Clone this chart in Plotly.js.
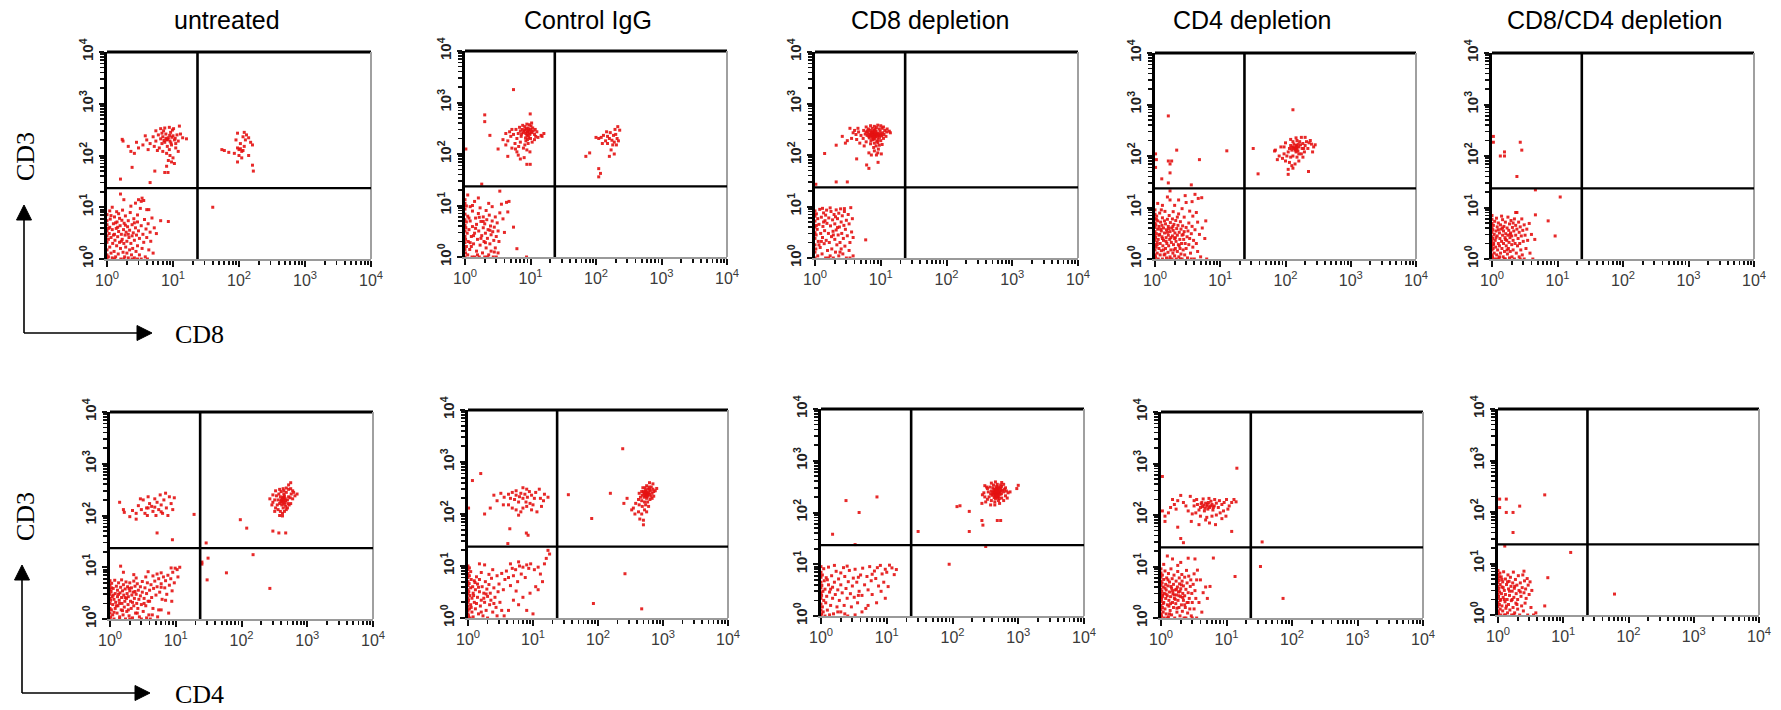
<!DOCTYPE html>
<html><head><meta charset="utf-8">
<script src="https://cdn.plot.ly/plotly-3.0.1.min.js"></script>
<style>html,body{margin:0;padding:0;background:#fff}#chart{width:1781px;height:710px}</style>
</head><body><div id="chart"></div>
<script>
// ---------- DATA (linear units of the log axes) ----------
const titles = ["untreated", "Control IgG", "CD8 depletion", "CD4 depletion", "CD8/CD4 depletion"];
const tickVals = [1, 10, 100, 1000, 10000];
const tickText = ["10<sup>0</sup>", "10<sup>1</sup>", "10<sup>2</sup>", "10<sup>3</sup>", "10<sup>4</sup>"];
const minorTickVals = [2,3,4,5,6,7,8,9,20,30,40,50,60,70,80,90,200,300,400,500,600,700,800,900,2000,3000,4000,5000,6000,7000,8000,9000];
const quadrantGate = 23.5;

// top row: CD8 (x) vs CD3 (y)
const cd8_untreated = [
[1,1.2],[1,1.5],[1,2.1],[1,2.8],[1,3.5],[1,4.6],[1,1],[1,5.5],[1.05,1.1],[1.05,2.4],[1.08,3.1],[1.1,1.7],[1.1,4.1],[1.12,5.9],[1.15,1.3],[1.15,2.6],[1.2,3.7],[1.2,1.05],[1.22,2.0],[1.25,4.8],[1.28,1.4],[1.3,3.0],[1.3,6.5],[1.32,2.3],[1.35,1.1],[1.38,3.9],[1.4,1.8],[1.42,5.2],[1.45,2.7],[1.48,1.25],[1.5,3.4],[1.5,7.5],[1.55,2.1],[1.58,4.4],[1.6,1.6],[1.62,1.0],[1.65,3.0],[1.68,5.6],[1.7,2.4],[1.72,8.8],[1.75,1.35],[1.78,3.7],[1.8,2.0],[1.82,4.9],[1.85,1.1],[1.88,2.9],[1.9,6.8],[1.92,1.7],[1.95,3.3],[2.0,2.2],[2.0,1.3],[2.05,4.2],[2.1,1.05],[2.1,5.5],[2.15,2.6],[2.2,1.5],[2.2,3.6],[2.25,7.9],[2.3,2.0],[2.35,1.2],[2.4,4.6],[2.4,2.8],[2.45,1.6],[2.5,3.2],[2.55,6.0],[2.6,1.05],[2.6,2.3],[2.7,4.0],[2.75,1.4],[2.8,2.9],[2.9,5.2],[2.9,1.8],[3.0,3.5],[3.1,1.2],[3.1,2.5],[3.2,9.5],[3.3,4.4],[3.4,1.6],[3.5,3.0],[3.6,2.1],[3.7,5.8],[3.8,1.1],[3.9,3.8],[4.0,2.6],[4.2,4.8],[4.3,1.5],[4.5,3.3],[4.6,2.2],[4.8,6.2],[5.0,1.3],[5.2,4.0],[3.3,13],[2.7,12],[1.8,14],[1.6,18],[2.3,10.5],[3.6,13.5],[1.2,10],[1.4,8.2],[2.9,7.1],[6.5,5.5],[5.6,3.1],[8.5,5.3],[1.0,7.2],[1.1,8.5],[4.1,1.0],[3.3,1.0],[2.4,1.0],[1.3,1.0],[1.8,1.0],[2.9,1.0],[1.25,2.9],[1.45,4.1],[1.65,2.2],[1.05,3.9],[1.9,4.5],[2.1,3.0],[1.35,5.0],[1.55,6.1],[2.6,5.0],[1.15,6.9],[4.0,9.0],[4.3,9.0],[3.0,14],[3.4,15],
[8,200],[7.5,180],[8.5,220],[9,190],[7,230],[9.5,160],[6.5,210],[10,240],[8.2,150],[7.8,260],[9.2,280],[6.8,170],[10.5,200],[11,170],[8.8,130],[7.2,300],[6,250],[5.5,190],[5,230],[9.8,310],[11.5,250],[12,190],[8,110],[7,120],[9,100],[10,90],[8.5,80],[6.2,140],[5.2,150],[4.5,170],[4,200],[3.5,160],[3,140],[2.8,180],[3.8,240],[4.2,130],[5.5,300],[6.5,330],[7.5,340],[8.8,350],[10.2,330],[12.5,370],[13,260],[14,220],[16,210],[11,140],[12,120],[7.8,215],[8.3,205],[9.6,225],[9.3,175],[7.3,195],[8.9,245],[10.8,215],[6.8,270],[5.8,125],[9.5,75],[10.5,70],[8,62],[2.3,120],[2.1,150],[2.6,110],[1.7,205],[1.75,190],[2.4,59],[5.3,50],[7.5,47],[8.4,47],[1.6,35],[4.5,30],
[100,130],[110,120],[95,140],[120,150],[105,170],[90,200],[115,230],[130,250],[140,220],[150,180],[125,200],[100,100],[85,110],[110,90],[140,100],[160,160],[95,270],[120,280],[70,115],[60,125],[55,130],[160,65],[165,50],[95,75],[105,135],[115,125],[40,10]];

const cd8_controlIgG = [
[1,1],[1,1.4],[1,1.9],[1,2.5],[1,3.2],[1,4.1],[1,5.3],[1,6.8],[1,8.5],[1,11],[1,13],[1.02,1.2],[1.02,2.2],[1.03,3.7],[1.05,1.6],[1.05,4.8],[1.08,2.9],[1.1,1.1],[1.1,6.2],[1.12,2.0],[1.15,3.4],[1.18,1.4],[1.2,9.5],[1.2,5.0],[1.25,2.5],[1.28,1.0],[1.3,7.8],[1.3,3.9],[1.35,1.8],[1.4,2.9],[1.4,12],[1.45,5.7],[1.5,1.3],[1.5,4.3],[1.55,2.2],[1.6,7.0],[1.62,3.2],[1.65,1.0],[1.7,1.7],[1.7,9.0],[1.75,4.9],[1.8,2.6],[1.85,1.2],[1.9,3.7],[1.9,6.0],[1.95,2.0],[2.0,1.0],[2.0,4.4],[2.05,2.9],[2.1,1.5],[2.1,8.0],[2.15,5.3],[2.2,2.3],[2.25,3.4],[2.3,1.1],[2.35,6.5],[2.4,1.8],[2.45,4.0],[2.5,2.7],[2.5,1.3],[2.6,5.0],[2.65,3.1],[2.7,1.0],[2.75,2.1],[2.8,3.8],[2.9,1.5],[2.9,6.0],[3.0,2.5],[3.1,4.6],[3.2,1.2],[3.2,3.2],[3.3,2.0],[3.4,7.2],[1.8,26],[3.4,19],[4.3,11.5],[3.6,10.6],[5.5,3.8],[6.2,1.45],[8.7,1.0],[1.1,16],[1.3,10],[2.6,9.5],[3.8,5.5],[4.0,3.0],[1.6,14],[2.3,11],[1.25,1.6],[1.45,3.6],[1.15,5.7],[1.75,2.3],[2.05,1.9],[1.35,2.6],[1.55,1.1],[1.05,9.8],[1.9,4.9],[2.4,3.3],[2.8,1.25],[1.2,1.9],[1.65,5.9],[3.0,1.0],[2.2,1.0],[1.4,1.0],[4.7,12],[4.5,7.5],
[9,270],[9.5,290],[8.5,250],[10,300],[8,280],[10.5,260],[9.2,320],[8.8,230],[7.5,300],[11,280],[9.8,240],[8.2,340],[10.2,350],[7.8,260],[9.4,210],[8.6,310],[10.8,320],[11.5,240],[7,280],[9,190],[10,200],[8.5,180],[7.2,220],[6.5,250],[6,300],[11.8,300],[12.5,270],[12,220],[9.6,370],[8.8,380],[10.4,400],[7.6,360],[6.8,330],[10.6,170],[9.2,160],[8.2,150],[7,170],[6.2,200],[5.5,240],[5,220],[4.8,270],[4.5,180],[5.8,160],[6.6,140],[7.8,130],[8.8,120],[9.8,110],[6.2,110],[5.2,130],[4.2,150],[3.8,190],[4.2,250],[5.2,300],[11.5,190],[13,210],[14.5,230],[16,250],[9.3,290],[8.9,265],[9.7,255],[8.3,295],[10.3,275],[9.1,235],[7.3,245],[8.4,205],[5.5,1780],[2.0,575],[2.0,425],[2.4,230],[3.2,125],[9.9,600],[15,220],[8.8,63],[9.9,63],[1.03,125],[6.5,95],[8,85],[7,80],[4.5,90],[5.9,125],
[175,185],[160,200],[190,170],[150,220],[200,240],[180,150],[210,200],[140,180],[165,260],[195,300],[220,180],[205,150],[130,230],[120,210],[110,200],[150,160],[170,120],[190,100],[160,90],[230,290],[215,340],[185,230],[145,270],[125,160],[70,90],[80,105],[110,52],[117,42],[110,36],[100,210]];

const cd8_cd8Depletion = [
[1,1],[1,1.3],[1,1.8],[1,2.4],[1,3.1],[1,4.0],[1,5.2],[1,6.5],[1,8.2],[1.03,1.5],[1.04,2.8],[1.05,7.2],[1.08,3.6],[1.1,1.1],[1.1,5.8],[1.12,2.1],[1.15,4.5],[1.18,8.8],[1.2,1.6],[1.22,3.0],[1.25,6.2],[1.28,1.2],[1.3,2.5],[1.32,4.1],[1.35,7.5],[1.38,1.9],[1.4,3.4],[1.42,5.3],[1.45,1.0],[1.48,2.2],[1.5,8.5],[1.52,4.7],[1.55,1.4],[1.6,3.0],[1.62,6.0],[1.65,2.0],[1.7,1.1],[1.72,4.2],[1.75,8.0],[1.78,2.6],[1.8,1.5],[1.85,5.5],[1.88,3.3],[1.9,1.0],[1.95,7.0],[2.0,2.3],[2.0,4.6],[2.05,1.3],[2.1,8.6],[2.1,3.5],[2.15,1.8],[2.2,5.8],[2.25,2.8],[2.3,1.1],[2.3,7.4],[2.35,4.0],[2.4,2.0],[2.45,9.0],[2.5,1.5],[2.5,5.0],[2.55,3.0],[2.6,6.6],[2.65,1.2],[2.7,2.4],[2.75,4.3],[2.8,8.0],[2.85,1.7],[2.9,3.6],[3.0,5.4],[3.0,1.0],[3.1,2.7],[3.2,7.0],[3.3,4.6],[3.3,1.4],[3.4,2.0],[3.5,9.5],[3.6,3.2],[3.7,5.8],[3.8,1.1],[3.8,2.5],[5.9,2.25],[1.15,1.8],[1.3,9.2],[1.6,1.0],[1.45,6.8],[2.05,6.3],[1.25,2.1],[1.9,2.8],[2.4,1.3],[1.05,4.3],[2.8,9.1],[3.4,1.0],[1.7,9.4],[2.2,3.9],[1.35,5.0],
[7.7,245],[7.5,250],[8,240],[7.2,260],[8.3,230],[7,235],[8.6,255],[7.8,270],[7.4,220],[8.8,245],[6.8,250],[9,265],[8.1,210],[7.3,280],[6.6,230],[8.5,290],[9.3,240],[7.9,300],[6.4,265],[9.6,220],[7.6,200],[8.2,315],[6.9,300],[9.1,200],[10,260],[6.2,240],[10.4,235],[7.1,190],[8.7,185],[9.8,290],[6,280],[10.8,270],[11.2,250],[5.8,255],[7.4,330],[8.6,340],[9.5,320],[6.5,320],[5.5,300],[11.5,300],[12.3,280],[10.5,330],[8,360],[7,370],[9,380],[6,350],[10,370],[11,350],[12,230],[11,210],[10,190],[9,175],[8,170],[7,165],[6,180],[5.4,210],[5,240],[4.6,280],[4.2,250],[4,300],[4.5,330],[3.4,330],[3.8,270],[12.5,320],[13.5,290],[14,270],[9.5,155],[8.5,150],[10.5,160],[9.2,130],[8,120],[9,110],[10.2,105],[8.6,100],[7.2,100],[6.6,110],[7.8,140],[5.6,150],[4.8,170],[4.3,200],[3.6,210],[3.1,190],[2.6,230],[2.9,170],[2.1,155],[1.4,107],[4.3,84],[6.1,64],[6.6,55],[9.1,72],[2.1,30],[3.1,30],[1.03,27],[7.6,232],[8.1,258],[7.3,242],[8.4,247],[7.9,225],[7.1,270],[8.9,228],[7.5,285],[6.7,215],[8.3,270],[9.4,250],[7.8,205],[6.3,295],[10.2,245]];

const cd8_cd4Depletion = [
[1,1],[1,1.2],[1,1.5],[1,1.9],[1,2.3],[1,2.8],[1,3.4],[1,4.1],[1,5.0],[1,6.1],[1,7.4],[1,9.0],[1.02,1.1],[1.02,2.6],[1.03,4.6],[1.04,1.7],[1.05,3.1],[1.06,6.8],[1.08,1.3],[1.08,2.1],[1.1,3.8],[1.1,5.5],[1.12,1.0],[1.12,2.4],[1.15,1.6],[1.15,4.3],[1.18,3.0],[1.18,7.8],[1.2,1.2],[1.2,2.0],[1.22,5.2],[1.25,1.45],[1.25,3.5],[1.28,2.7],[1.3,1.0],[1.3,6.3],[1.32,1.8],[1.35,4.0],[1.35,2.3],[1.38,1.2],[1.4,3.2],[1.42,8.4],[1.45,1.6],[1.45,4.8],[1.48,2.6],[1.5,1.05],[1.5,3.7],[1.52,2.0],[1.55,5.9],[1.58,1.35],[1.6,2.9],[1.6,4.3],[1.62,1.8],[1.65,7.0],[1.68,2.4],[1.7,1.1],[1.7,3.4],[1.72,5.1],[1.75,1.5],[1.78,2.1],[1.8,4.0],[1.82,1.0],[1.85,2.8],[1.85,6.0],[1.88,1.3],[1.9,3.6],[1.92,1.9],[1.95,4.7],[2.0,2.5],[2.0,1.15],[2.02,3.2],[2.05,1.6],[2.08,5.6],[2.1,2.2],[2.12,1.0],[2.15,3.9],[2.2,1.4],[2.2,2.9],[2.25,4.5],[2.28,1.9],[2.3,7.5],[2.32,1.1],[2.35,3.3],[2.4,2.4],[2.42,1.6],[2.45,5.3],[2.5,1.25],[2.5,3.8],[2.55,2.0],[2.6,2.9],[2.6,1.0],[2.65,4.4],[2.7,1.5],[2.75,2.4],[2.8,6.5],[2.8,3.4],[2.85,1.2],[2.9,2.0],[3.0,4.1],[3.0,1.6],[3.1,2.7],[3.15,1.05],[3.2,3.5],[3.3,5.0],[3.3,1.9],[3.4,2.5],[3.5,1.3],[3.6,3.1],[3.7,4.3],[3.8,1.7],[3.9,2.3],[4.0,1.0],[4.1,3.7],[4.3,2.0],[4.5,5.2],[4.5,1.4],[4.8,3.0],[5.0,1.1],[5.3,4.0],[5.8,2.5],[6.2,1.0],[6.0,5.5],[1.7,14],[2.3,14],[3.0,12.5],[3.7,13],[4.6,15],[5.2,15.5],[4.1,18],[2.0,11],[1.3,11],[2.6,9.5],[3.4,8.5],[4.3,8.0],[1.1,12],[1.25,9.0],[1.9,8.3],[3.8,6.8],[1.55,16],[2.9,17],[1.08,1.9],[1.22,3.8],[1.35,1.5],[1.48,2.2],[1.62,3.9],[1.75,2.6],[1.88,4.3],[2.05,2.6],[2.35,1.8],[1.42,1.25],[1.15,2.9],[1.28,4.5],[1.55,3.3],[1.95,1.5],[2.7,3.0],[1.3,2.5],[1.05,5.9],[1.68,1.0],[2.45,1.0],[3.6,1.0],[1.4,5.5],[2.2,6.5],
[1.6,600],[2.15,130],[1.02,110],[1.02,60],[1.6,80],[1.8,80],[1.7,70],[1.7,47],[1.27,36],[1.6,30],[1.7,21],[3.6,27.5],[4.8,85],[12.6,126],[1.05,85],
[140,145],[130,150],[150,140],[125,130],[145,160],[160,150],[135,170],[120,160],[155,125],[170,165],[115,140],[145,120],[165,190],[130,190],[180,140],[110,120],[150,200],[185,175],[200,160],[210,190],[230,180],[250,170],[220,140],[240,200],[195,120],[175,110],[130,100],[120,95],[105,100],[95,110],[90,90],[80,100],[70,130],[75,85],[100,80],[115,75],[140,70],[160,80],[185,95],[150,95],[125,65],[110,55],[130,58],[200,230],[175,230],[145,225],[120,210],[100,180],[85,150],[95,150],[160,110],[140,130],[135,140],[150,155],[125,145],[145,135],[155,170],[190,140],[270,150],[285,165],[260,120],[130,790],[32,140],[38,45],[225,50],[110,44],[68,125]];

const cd8_cd8cd4Depletion = [
[1,1],[1,1.2],[1,1.5],[1,1.8],[1,2.2],[1,2.7],[1,3.3],[1,4.0],[1,4.9],[1,5.9],[1,7.0],[1.02,1.1],[1.02,2.5],[1.03,3.7],[1.04,1.6],[1.05,4.5],[1.06,2.0],[1.08,1.3],[1.08,3.0],[1.1,5.4],[1.1,1.0],[1.12,2.3],[1.14,1.7],[1.15,3.5],[1.17,6.2],[1.18,1.2],[1.2,2.8],[1.2,4.2],[1.22,1.5],[1.25,2.0],[1.25,5.0],[1.28,1.05],[1.3,3.2],[1.3,1.8],[1.32,2.5],[1.35,4.6],[1.35,1.3],[1.38,3.8],[1.4,2.2],[1.42,1.6],[1.45,5.8],[1.45,2.9],[1.48,1.1],[1.5,3.5],[1.5,2.0],[1.52,4.3],[1.55,1.4],[1.58,2.6],[1.6,1.0],[1.6,5.2],[1.62,3.1],[1.65,1.8],[1.68,2.3],[1.7,4.0],[1.72,1.25],[1.75,6.5],[1.75,2.9],[1.78,1.6],[1.8,3.6],[1.82,2.1],[1.85,1.05],[1.85,4.8],[1.88,2.6],[1.9,1.4],[1.92,3.2],[1.95,5.6],[2.0,1.9],[2.0,2.8],[2.02,1.1],[2.05,4.1],[2.1,2.3],[2.1,1.5],[2.15,3.5],[2.2,6.0],[2.2,1.0],[2.25,2.0],[2.3,4.5],[2.3,2.9],[2.35,1.3],[2.4,3.8],[2.4,8.0],[2.45,1.8],[2.5,2.5],[2.55,5.2],[2.6,1.1],[2.6,3.3],[2.65,2.0],[2.7,4.2],[2.75,1.5],[2.8,2.8],[2.85,6.0],[2.9,1.2],[2.95,3.6],[3.0,2.2],[3.1,4.6],[3.1,1.0],[3.2,2.9],[3.3,1.6],[3.4,3.8],[3.5,2.3],[3.7,4.9],[3.8,1.3],[4.0,3.0],[4.2,1.0],[4.6,7.2],[7.2,5.5],[9.2,2.8],[11,16],[2.3,8],[4.6,22],[4.5,2.4],[1.15,2.6],[1.3,1.1],[1.45,4.0],[1.6,2.4],[1.7,1.5],[1.9,3.0],[1.25,3.7],[1.4,6.8],[2.1,5.0],[1.05,1.9],[2.7,1.0],[1.2,1.0],[1.55,1.0],
[1.05,240],[1.05,185],[1.34,100],[1.55,100],[1.55,120],[2.7,185],[2.85,130],[2.4,40]];

// bottom row: CD4 (x) vs CD3 (y)
const cd4_untreated = [
[1,1],[1,1.3],[1,1.6],[1,2.0],[1,2.5],[1,3.0],[1,3.7],[1,4.5],[1,5.5],[1.02,1.1],[1.02,2.3],[1.04,3.4],[1.05,1.5],[1.06,4.9],[1.08,2.7],[1.1,1.2],[1.1,1.9],[1.12,3.9],[1.15,1.0],[1.15,2.4],[1.18,5.6],[1.2,1.6],[1.2,3.1],[1.22,2.1],[1.25,4.3],[1.28,1.3],[1.3,2.7],[1.3,3.6],[1.32,1.8],[1.35,5.0],[1.38,2.3],[1.4,1.1],[1.42,3.2],[1.45,4.1],[1.48,1.5],[1.5,2.6],[1.5,5.7],[1.52,2.0],[1.55,3.5],[1.58,1.2],[1.6,4.6],[1.62,2.9],[1.65,1.7],[1.68,2.2],[1.7,3.8],[1.72,1.0],[1.75,5.2],[1.78,2.5],[1.8,1.4],[1.82,3.1],[1.85,4.2],[1.88,1.9],[1.9,2.7],[1.95,1.15],[2.0,3.5],[2.0,5.0],[2.05,2.2],[2.1,1.6],[2.12,4.0],[2.15,2.9],[2.2,1.05],[2.25,3.3],[2.3,1.8],[2.3,5.4],[2.35,2.5],[2.4,4.3],[2.45,1.3],[2.5,3.0],[2.55,2.0],[2.6,4.8],[2.65,1.6],[2.7,3.6],[2.75,2.4],[2.8,1.1],[2.9,4.2],[2.9,2.8],[3.0,1.9],[3.1,3.3],[3.1,5.3],[3.2,1.4],[3.3,2.5],[3.4,4.0],[3.5,1.8],[3.6,3.1],[3.7,5.0],[3.8,2.2],[3.9,1.2],[4.0,3.6],[4.2,4.6],[4.3,2.6],[4.5,1.6],[4.6,3.9],[4.8,5.4],[5.0,2.9],[5.2,4.2],[5.5,6.0],[5.7,3.3],[6.0,4.8],[6.2,2.4],[6.5,6.5],[6.8,4.0],[7.0,5.5],[7.3,3.0],[7.6,7.0],[8.0,4.5],[8.4,6.0],[8.7,2.2],[9.0,8.0],[9.5,5.0],[9.8,9.6],[10.5,9.0],[11.5,10],[10.8,6.5],[8.5,9.7],[6.0,7.8],[4.5,6.8],[3.5,6.5],[2.5,6.2],[1.45,10.5],[1.6,8.0],[2.3,7.2],[3.8,8.2],[5.2,7.4],[7.0,2.3],[5.5,1.5],[4.1,1.0],[3.0,1.0],[2.0,1.0],[1.4,1.0],[6.0,1.5],[1.12,2.9],[1.25,1.8],[1.35,3.0],[1.55,1.45],[1.7,2.6],[1.95,3.9],[2.2,2.1],[2.6,1.3],[1.05,4.0],[1.15,1.35],[1.4,2.0],[1.9,1.5],[2.4,3.4],[3.3,2.0],[4.0,2.2],[6.0,4.1],[8.8,3.5],[4.4,1.2],[7.8,1.3],[5.3,1.1],[3.6,1.05],
[1.4,180],[1.6,130],[1.65,115],[2.0,95],[2.2,125],[2.5,110],[2.7,155],[2.9,210],[3.2,200],[3.0,130],[3.4,110],[3.6,140],[3.8,230],[4.0,170],[4.3,150],[4.5,120],[4.8,210],[5.0,100],[5.2,180],[5.5,130],[5.8,250],[6.0,160],[6.3,110],[6.6,200],[7.0,270],[7.2,140],[7.6,100],[8.0,230],[8.5,170],[9.0,130],[9.5,220],[3.8,140],[4.8,145],[2.5,85],[5.2,46],[8.9,34],[19,105],[3.7,100],[6.0,118],
[430,190],[400,200],[460,180],[420,220],[380,170],[450,240],[500,200],[410,160],[470,150],[390,230],[520,230],[360,200],[440,260],[480,280],[430,140],[350,160],[510,170],[550,220],[570,260],[600,300],[560,330],[520,320],[480,340],[440,300],[400,290],[370,260],[340,240],[320,200],[300,180],[330,140],[360,130],[390,120],[420,110],[450,120],[480,130],[500,140],[530,160],[560,170],[600,210],[650,240],[700,260],[620,280],[380,100],[420,98],[320,120],[290,160],[270,210],[300,250],[330,300],[380,320],[430,330],[520,390],[560,430],[410,190],[445,205],[425,175],[460,215],[395,185],[470,195],[435,225],[415,205],[450,165],[96,83],[120,57],[300,50],[370,46],[470,46],
[25,12.6],[25,11.5],[31,15],[29,29.5],[150,17.5],[59,7.8],[30,5.7],[270,3.9]];

const cd4_controlIgG = [
[1,1],[1,1.2],[1,1.4],[1,1.7],[1,2.0],[1,2.4],[1,2.9],[1,3.5],[1,4.2],[1,5.0],[1,6.0],[1,7.2],[1,8.6],[1,10],[1.02,1.1],[1.02,2.2],[1.03,3.2],[1.04,4.6],[1.05,1.5],[1.05,6.5],[1.07,2.7],[1.08,1.0],[1.1,3.8],[1.1,1.8],[1.12,5.5],[1.15,1.3],[1.15,2.4],[1.18,4.0],[1.2,3.0],[1.2,1.05],[1.25,5.2],[1.25,2.0],[1.3,1.5],[1.3,3.5],[1.35,6.2],[1.4,2.5],[1.4,4.5],[1.45,1.2],[1.5,3.2],[1.5,5.5],[1.55,1.7],[1.6,2.2],[1.65,4.0],[1.7,1.1],[1.75,3.0],[1.8,2.0],[1.85,5.0],[1.9,1.4],[1.95,3.6],[2.0,2.6],[2.0,1.0],[2.1,4.4],[2.15,1.8],[2.2,3.0],[2.25,2.2],[2.3,5.8],[2.4,1.3],[2.5,3.8],[2.6,2.5],[2.7,1.6],[2.8,6.5],[2.9,3.2],[3.0,4.5],[3.1,2.0],[3.3,7.2],[3.5,3.5],[3.7,5.5],[3.9,8.0],[4.2,6.0],[4.5,4.2],[4.8,9.0],[5.0,6.5],[5.4,8.5],[5.8,5.0],[6.2,10],[6.6,7.0],[7.0,9.5],[7.6,6.0],[8.0,10.5],[8.6,9.0],[9.2,11],[10.5,8.5],[12,9.5],[13,7.0],[15,11],[17,20],[18,17],[16,14],[14,5.0],[11,4.0],[9,3.0],[7,2.5],[6,1.8],[5,2.2],[4.2,1.4],[3.6,1.1],[10,1.2],[12,3.5],[8,1.4],[5.5,3.3],[3.3,1.4],[2.4,8.5],[1.8,10.5],[1.5,11],[2.1,6.9],[1.6,7.5],[4.5,11],[6,12],[1.12,1.6],[1.22,2.7],[1.35,1.9],[1.45,3.9],[1.28,4.8],[1.6,1.3],[1.75,2.4],[1.1,7.8],[1.05,9.2],[2.8,1.1],[1.9,2.9],[2.5,1.9],
[6.2,215],[5.5,230],[7,200],[6.5,250],[4.8,260],[5.2,190],[7.5,240],[8.2,210],[7.8,170],[6,170],[4.5,200],[4.2,240],[3.6,210],[3.2,250],[2.8,180],[2.5,230],[8.8,270],[9.5,230],[10.5,200],[11,260],[12.5,300],[13,200],[14.5,180],[15,240],[10,150],[9,160],[8,140],[7,130],[6.5,110],[5.5,120],[4.8,130],[4.2,150],[3.5,150],[2.2,130],[1.8,100],[8,300],[7,320],[5.5,280],[9.5,120],[11.5,110],[13.5,140],[6,95],[4.4,52],[7.9,43],[8.4,39],[4.1,27],[1.57,600],[1.17,440],[1.02,130],[17,210],
[550,235],[520,250],[580,220],[500,270],[600,260],[540,290],[480,230],[620,240],[560,200],[510,210],[640,280],[590,300],[530,320],[470,270],[450,210],[650,220],[680,250],[700,300],[720,270],[610,330],[560,350],[490,320],[430,250],[420,190],[470,180],[520,170],[580,170],[630,190],[680,200],[720,220],[760,280],[800,310],[700,380],[620,400],[540,150],[480,140],[430,150],[380,160],[350,130],[330,120],[370,100],[420,110],[470,100],[520,120],[560,110],[600,140],[440,80],[500,76],[550,260],[565,240],[535,225],[575,250],[545,270],[590,235],[510,240],[555,215],[525,260],[620,300],[660,330],[250,160],[280,200],[240,1800],[35,235],[155,250],[80,82],[500,62],[260,7.1],[85,1.9],[470,1.5]];

const cd4_cd8Depletion = [
[1,1],[1,1.3],[1,1.7],[1,2.2],[1,2.8],[1,3.5],[1,4.5],[1,5.6],[1,7.0],[1,9.0],[1.02,1.1],[1.02,2.5],[1.03,3.9],[1.05,1.5],[1.05,6.2],[1.07,3.0],[1.08,1.2],[1.1,2.0],[1.1,8.2],[1.12,4.8],[1.15,1.0],[1.15,3.3],[1.18,1.8],[1.2,5.5],[1.22,2.4],[1.25,1.3],[1.3,4.0],[1.3,8.8],[1.35,2.9],[1.4,1.6],[1.45,6.0],[1.5,2.2],[1.5,3.6],[1.55,1.1],[1.6,4.5],[1.65,2.6],[1.7,7.3],[1.75,1.5],[1.8,3.2],[1.85,5.2],[1.9,2.0],[2.0,1.2],[2.0,4.0],[2.1,2.8],[2.2,8.6],[2.25,1.6],[2.3,5.8],[2.4,3.4],[2.5,2.2],[2.55,1.0],[2.6,4.6],[2.7,7.6],[2.8,2.7],[2.9,1.5],[3.0,3.8],[3.1,5.4],[3.2,2.3],[3.3,8.0],[3.5,4.5],[3.6,1.8],[3.8,3.0],[4.0,6.2],[4.2,2.5],[4.3,8.4],[4.6,4.0],[4.8,1.4],[5.0,5.8],[5.2,3.2],[5.5,9.0],[5.8,4.8],[6.0,2.6],[6.5,7.4],[6.8,5.3],[7.2,8.6],[7.5,3.8],[8.0,9.5],[8.5,6.5],[9.0,4.5],[9.5,8.0],[10,7.0],[11,9.6],[12,8.5],[13,6.3],[14,7.9],[9.5,2.2],[7,1.8],[4.2,1.2],[3.3,1.05],[2.3,1.1],[1.35,1.05],[5.2,1.6],[8.2,3.0],[6,6.4],[3.7,5.6],[2.0,6.8],[1.6,9.5],[2.5,9.2],[1.25,5.0],[1.4,3.3],[1.8,1.2],[3.7,2.5],[10.5,3.7],
[2.4,170],[7.1,200],[3.8,100],[1.5,38],[3.3,24],
[470,235],[450,240],[490,230],[460,250],[480,220],[440,230],[500,245],[470,260],[455,215],[510,235],[430,250],[485,270],[445,205],[520,255],[465,200],[495,285],[420,225],[530,225],[475,290],[440,275],[505,205],[410,245],[545,260],[460,300],[500,310],[425,280],[555,230],[400,215],[485,195],[525,290],[450,185],[470,320],[540,300],[390,260],[575,270],[430,195],[515,185],[410,300],[560,320],[600,250],[380,230],[620,280],[360,200],[350,250],[340,290],[330,310],[370,310],[420,340],[480,350],[540,340],[600,350],[640,300],[660,260],[700,240],[750,250],[640,210],[560,190],[500,170],[440,160],[390,170],[340,180],[310,200],[300,240],[320,160],[380,140],[440,140],[520,150],[600,170],[680,190],[560,380],[450,390],[390,370],[310,330],[285,220],[280,150],[1000,335],[950,290],[117,130],[130,135],[180,105],[180,43],[290,57],[280,70],[480,70],[540,70],[30,43],[320,22],[89,10],[470,238],[458,228],[482,245],[465,218],[492,252],[448,252],[476,206],[462,265]];

const cd4_cd4Depletion = [
[1,1],[1,1.2],[1,1.45],[1,1.75],[1,2.1],[1,2.5],[1,3.0],[1,3.6],[1,4.3],[1,5.2],[1,6.2],[1,7.5],[1,9.0],[1.02,1.1],[1.02,2.3],[1.03,3.3],[1.04,4.8],[1.05,1.6],[1.05,6.8],[1.06,2.8],[1.08,1.3],[1.08,4.0],[1.1,2.0],[1.1,5.6],[1.12,1.0],[1.12,3.0],[1.15,1.5],[1.15,8.2],[1.18,2.4],[1.18,4.5],[1.2,1.2],[1.2,3.5],[1.22,6.0],[1.25,1.8],[1.25,2.7],[1.28,4.2],[1.3,1.05],[1.3,7.3],[1.32,2.2],[1.35,3.2],[1.35,5.0],[1.38,1.4],[1.4,2.6],[1.42,9.0],[1.45,3.8],[1.45,1.15],[1.48,5.8],[1.5,2.0],[1.52,3.0],[1.55,1.6],[1.55,4.5],[1.58,6.8],[1.6,2.4],[1.62,1.0],[1.65,3.5],[1.68,1.9],[1.7,5.2],[1.72,2.8],[1.75,1.3],[1.78,4.0],[1.8,8.0],[1.82,2.2],[1.85,3.2],[1.88,1.6],[1.9,6.0],[1.92,4.6],[1.95,1.1],[2.0,2.6],[2.0,3.7],[2.05,1.8],[2.08,7.0],[2.1,5.2],[2.12,1.35],[2.15,3.0],[2.2,2.2],[2.2,4.2],[2.25,1.0],[2.3,6.2],[2.3,2.7],[2.35,1.6],[2.4,3.6],[2.45,8.4],[2.5,2.0],[2.5,4.8],[2.55,1.25],[2.6,3.1],[2.65,6.5],[2.7,2.4],[2.75,1.5],[2.8,4.1],[2.85,5.5],[2.9,1.1],[2.95,3.0],[3.0,2.0],[3.1,4.5],[3.2,7.2],[3.2,1.5],[3.3,3.4],[3.4,2.4],[3.5,5.5],[3.5,1.0],[3.6,8.5],[2.0,12],[1.5,14],[1.25,16],[2.6,14.5],[3.3,14],[6.3,14.6],[1.8,10.5],[1.1,11],[4.4,3.1],[5.1,2.4],[5.6,4.1],[13.5,6.4],[4.0,5.5],[4.8,4.0],[3.8,2.0],[4.2,1.3],[1.08,1.9],[1.2,2.9],[1.32,1.7],[1.42,4.1],[1.58,2.8],[1.72,3.6],[1.88,2.7],[2.05,4.4],[2.3,1.8],[1.15,3.8],[1.28,5.5],[1.4,1.9],[1.65,2.3],[1.95,3.3],[2.15,2.5],[2.6,2.0],[1.05,2.6],[1.35,1.2],[1.5,3.4],[1.75,1.55],[2.4,1.0],[1.25,1.0],[3.0,1.0],
[5,148],[4.5,155],[5.5,140],[4.8,170],[5.2,130],[6,160],[4,140],[4.2,175],[5.8,185],[6.5,150],[3.6,160],[3.8,125],[4.6,120],[6.2,125],[7,170],[7.5,140],[3.2,190],[3.5,200],[4.4,205],[5.4,210],[6.6,200],[7.8,190],[8.5,160],[9.2,175],[10,200],[11,150],[12,175],[10.5,130],[9,120],[8,110],[7,100],[6,95],[5,90],[4,95],[3,105],[2.6,120],[2.4,150],[2.2,175],[1.8,190],[1.6,160],[1.4,140],[1.3,110],[1.15,95],[1.05,120],[1.5,200],[2,240],[2.8,230],[3.4,110],[4.8,80],[5.5,70],[6.8,65],[3.8,65],[2.9,75],[8.5,85],[9.8,95],[12,48],[13,200],[14,180],[3.2,150],[4.3,145],[5.1,160],[5.7,150],[4.7,135],[5.3,175],[4.1,165],[6.3,140],[2.0,35],[2.2,29],[1.05,560],[14.4,810],[1.15,75],[1.8,58],[1.7,130],
[35,30],[33,10],[73,2.4]];

const cd4_cd8cd4Depletion = [
[1,1],[1,1.2],[1,1.45],[1,1.75],[1,2.1],[1,2.5],[1,3.0],[1,3.6],[1,4.3],[1,5.1],[1,6.1],[1,7.3],[1.02,1.1],[1.02,2.3],[1.03,3.3],[1.04,4.7],[1.05,1.6],[1.06,2.8],[1.07,6.5],[1.08,1.3],[1.08,3.9],[1.1,2.0],[1.1,1.0],[1.12,5.5],[1.13,2.6],[1.15,1.5],[1.15,3.5],[1.18,1.2],[1.18,4.4],[1.2,2.2],[1.22,6.9],[1.25,1.0],[1.25,3.0],[1.28,1.8],[1.3,5.0],[1.3,2.5],[1.32,1.35],[1.35,3.9],[1.38,2.0],[1.4,1.1],[1.42,6.0],[1.45,3.2],[1.45,1.6],[1.48,4.5],[1.5,2.4],[1.52,1.25],[1.55,5.4],[1.58,3.6],[1.6,1.9],[1.62,1.0],[1.65,2.9],[1.68,4.2],[1.7,1.4],[1.72,6.8],[1.75,2.2],[1.78,3.3],[1.8,1.1],[1.85,4.9],[1.88,1.7],[1.9,2.6],[1.95,3.8],[2.0,1.3],[2.0,2.0],[2.05,5.8],[2.1,3.0],[2.15,1.0],[2.2,4.2],[2.25,2.3],[2.3,1.5],[2.35,3.4],[2.4,6.0],[2.45,1.2],[2.5,2.7],[2.5,7.1],[2.55,4.6],[2.6,1.7],[2.65,3.2],[2.7,2.1],[2.8,5.1],[2.85,1.0],[2.9,3.8],[3.0,2.5],[3.1,4.4],[3.2,1.4],[3.3,3.0],[3.5,1.0],[3.8,1.1],[5.8,5.3],[5.2,1.5],[13,16.4],[1.27,21.8],[1.08,1.9],[1.2,3.4],[1.35,1.5],[1.5,2.9],[1.65,2.0],[1.8,3.6],[1.95,1.6],[2.2,2.8],[1.15,4.9],[1.4,4.4],[1.05,5.5],[1.3,1.0],[1.75,1.0],[1.25,2.0],
[1.06,178],[1.34,178],[1.06,122],[1.34,98],[1.7,98],[2.15,130],[5.2,215],[1.7,40],
[61,2.55]];

const panelData = [cd8_untreated, cd8_controlIgG, cd8_cd8Depletion, cd8_cd4Depletion, cd8_cd8cd4Depletion,
                   cd4_untreated, cd4_controlIgG, cd4_cd8Depletion, cd4_cd4Depletion, cd4_cd8cd4Depletion];

// ---------- LAYOUT (pixel boxes of the plot areas: left, right, top, bottom) ----------
const W = 1781, H = 710;
const boxes = [
  [107,371,52,259],[465,727,51,257],[815,1078,52,258],[1155,1416,53,259],[1492,1754,53,259],
  [110,373,412,619],[468,728,410,618],[821,1084,409,616],[1161,1423,412,618],[1498,1759,409,615]
];
const titleCenters = [227, 588, 930, 1252, 1614];
const X = p => p / W, Y = p => 1 - p / H;

const traces = [], shapes = [], annotations = [];
const layout = {
  width: W, height: H, margin: {l:0, r:0, t:0, b:0},
  paper_bgcolor: '#fff', plot_bgcolor: '#fff', showlegend: false,
  font: {family: 'Liberation Sans, Arial, sans-serif', color: '#000'}
};

panelData.forEach((pts, i) => {
  const n = i + 1, sfx = n === 1 ? '' : String(n);
  const b = boxes[i];
  const common = {
    type: 'log', range: [0, 4], tickmode: 'array', tickvals: tickVals, ticktext: tickText,
    ticks: 'outside', ticklen: 6, tickwidth: 2, tickcolor: '#111',
    showgrid: false, zeroline: false, showline: true, fixedrange: true,
    minor: {tickmode: 'array', tickvals: minorTickVals, ticks: 'outside', ticklen: 4, tickwidth: 1.8, tickcolor: '#111', showgrid: false}
  };
  layout['xaxis' + sfx] = Object.assign({}, common, {
    domain: [X(b[0]), X(b[1])], anchor: 'y' + sfx,
    linecolor: '#9a9a9a', linewidth: 2,
    tickfont: {family: 'Liberation Sans, Arial, sans-serif', size: 16, color: '#3a3a3a'}
  });
  layout['yaxis' + sfx] = Object.assign({}, common, {
    domain: [Y(b[3]), Y(b[2])], anchor: 'x' + sfx,
    linecolor: '#000', linewidth: 3, tickangle: -90, ticklen: 5,
    tickfont: {family: 'Liberation Sans, Arial, sans-serif', size: 15, color: '#222', weight: 'bold'}
  });
  traces.push({
    type: 'scatter', mode: 'markers', xaxis: 'x' + sfx, yaxis: 'y' + sfx,
    x: pts.map(p => p[0]), y: pts.map(p => p[1]), cliponaxis: false, hoverinfo: 'skip',
    marker: {symbol: 'square', size: 3, color: 'rgb(228,18,18)', opacity: 0.9, line: {width: 0}}
  });
  const xd = 'x' + sfx + ' domain', yd = 'y' + sfx + ' domain';
  // frame: top black, right grey
  shapes.push({type:'line', xref: xd, yref: yd, x0:0, x1:1, y0:1, y1:1, line:{color:'#000', width:3}});
  shapes.push({type:'line', xref: xd, yref: yd, x0:1, x1:1, y0:0, y1:1, line:{color:'#a0a0a0', width:2}});
  // quadrant gates
  shapes.push({type:'line', xref: 'x' + sfx, yref: yd, x0: quadrantGate, x1: quadrantGate, y0:0, y1:1, line:{color:'#000', width:2.6}});
  shapes.push({type:'line', xref: xd, yref: 'y' + sfx, x0:0, x1:1, y0: quadrantGate, y1: quadrantGate, line:{color:'#000', width:2.2}});
});

// column titles
titles.forEach((t, i) => {
  annotations.push({text: t, xref:'paper', yref:'paper', x: X(titleCenters[i]), y: Y(20),
    xanchor:'center', yanchor:'middle', showarrow:false,
    font:{family:'Liberation Sans, Arial, sans-serif', size:25, color:'#000'}});
});

// axis-key arrows and labels (CD3 up, CD8 / CD4 right)
function arrowKey(x0, yBase, yTip, xTip, xLabelText, yLabelY) {
  shapes.push({type:'line', xref:'paper', yref:'paper', x0:X(x0), x1:X(x0), y0:Y(yBase), y1:Y(yTip+14), line:{color:'#000', width:1.6}});
  shapes.push({type:'path', xref:'paper', yref:'paper', fillcolor:'#000', line:{color:'#000', width:1},
    path: `M ${X(x0-7.5)},${Y(yTip+15)} L ${X(x0+7.5)},${Y(yTip+15)} L ${X(x0)},${Y(yTip)} Z`});
  shapes.push({type:'line', xref:'paper', yref:'paper', x0:X(x0), x1:X(xTip-14), y0:Y(yBase), y1:Y(yBase), line:{color:'#000', width:1.6}});
  shapes.push({type:'path', xref:'paper', yref:'paper', fillcolor:'#000', line:{color:'#000', width:1},
    path: `M ${X(xTip-15)},${Y(yBase-7.5)} L ${X(xTip-15)},${Y(yBase+7.5)} L ${X(xTip)},${Y(yBase)} Z`});
  annotations.push({text: xLabelText, xref:'paper', yref:'paper', x: X(173), y: Y(yBase+1),
    xanchor:'left', yanchor:'middle', showarrow:false,
    font:{family:'Liberation Serif, Times New Roman, serif', size:26, color:'#000'}});
  annotations.push({text: 'CD3', xref:'paper', yref:'paper', x: X(25), y: Y(yLabelY),
    xanchor:'center', yanchor:'middle', showarrow:false, textangle:-90,
    font:{family:'Liberation Serif, Times New Roman, serif', size:26, color:'#000'}});
}
arrowKey(24, 333, 205, 152, 'CD8', 157);
arrowKey(22, 693, 565, 150, 'CD4', 517);

layout.shapes = shapes;
layout.annotations = annotations;
Plotly.newPlot('chart', traces, layout, {staticPlot: true, displayModeBar: false});
</script>
</body></html>
